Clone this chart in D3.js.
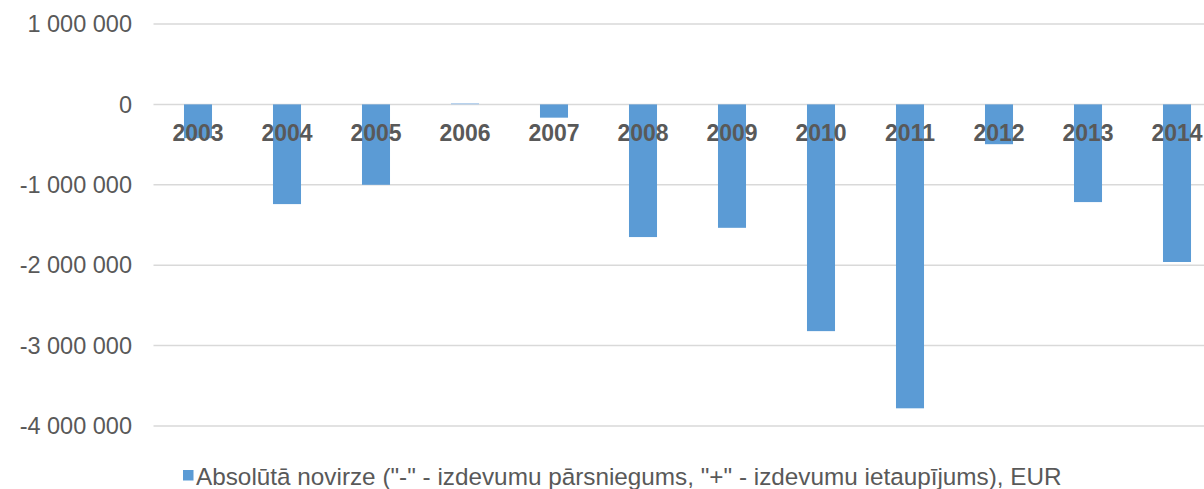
<!DOCTYPE html>
<html>
<head>
<meta charset="utf-8">
<script src="https://cdn.jsdelivr.net/npm/d3@7"></script>
<style>
  body { margin: 0; background: #fff; }
  svg { display: block; font-family: "Liberation Sans", Arial, sans-serif; }
</style>
</head>
<body>
<div id="chart"></div>
<script>
// data
const years = ["2003", "2004", "2005", "2006", "2007", "2008", "2009", "2010", "2011", "2012", "2013", "2014"];
const deviation = [-420000, -1240000, -1000000, 15000, -165000, -1650000, -1535000, -2820000, -3780000, -495000, -1215000, -1960000];
const yTicks = [1000000, 0, -1000000, -2000000, -3000000, -4000000];
const legendLabel = 'Absolūtā novirze ("-" - izdevumu pārsniegums, "+" - izdevumu ietaupījums), EUR';

const width = 1204;
const height = 489;
const margin = { top: 24, left: 153.5 };

const svg = d3.select("#chart")
    .append("svg")
    .attr("width", width)
    .attr("height", height);

// the plot runs past the right edge of the window, like the original
const x = d3.scaleBand()
    .domain(years)
    .range([margin.left, margin.left + 89 * years.length])
    .paddingInner(0.685)
    .paddingOuter(0.3425);

const y = d3.scaleLinear()
    .domain([-4000000, 1000000])
    .range([426, 24]);

// space as thousands separator, plain hyphen for minus
const fmt = v => d3.format(",")(v).replace(/,/g, " ").replace("\u2212", "-");

// gridlines
svg.append("g")
    .selectAll("line")
    .data(yTicks)
    .join("line")
    .attr("x1", margin.left)
    .attr("x2", width)
    .attr("y1", d => y(d))
    .attr("y2", d => y(d))
    .attr("stroke", "#d9d9d9")
    .attr("stroke-width", 1.5);

// y labels
svg.append("g")
    .selectAll("text")
    .data(yTicks)
    .join("text")
    .attr("x", 132)
    .attr("y", d => y(d))
    .attr("dy", "0.35em")
    .attr("text-anchor", "end")
    .attr("fill", "#595959")
    .style("font-size", "23.5px")
    .text(d => fmt(d));

// bars
svg.append("g")
    .selectAll("rect")
    .data(years)
    .join("rect")
    .attr("x", d => x(d))
    .attr("width", x.bandwidth())
    .attr("y", (d, i) => Math.min(y(0), y(deviation[i])))
    .attr("height", (d, i) => Math.abs(y(deviation[i]) - y(0)))
    .attr("fill", (d, i) => deviation[i] > 0 ? "#a9c9ea" : "#5b9bd5");

// category labels sit just under the zero line
svg.append("g")
    .selectAll("text")
    .data(years)
    .join("text")
    .attr("x", d => x(d) + x.bandwidth() / 2)
    .attr("y", y(0) + 37)
    .attr("text-anchor", "middle")
    .attr("fill", "#595959")
    .style("font-size", "23px")
    .style("font-weight", "bold")
    .text(d => d);

// legend
const legend = svg.append("g").attr("transform", "translate(183,481)");
legend.append("rect")
    .attr("x", 0)
    .attr("y", -11)
    .attr("width", 10.5)
    .attr("height", 10.5)
    .attr("fill", "#5b9bd5");
legend.append("text")
    .attr("x", 13)
    .attr("y", 0)
    .attr("dy", "0.15em")
    .attr("fill", "#595959")
    .style("font-size", "24.3px")
    .text(legendLabel);
</script>
</body>
</html>
